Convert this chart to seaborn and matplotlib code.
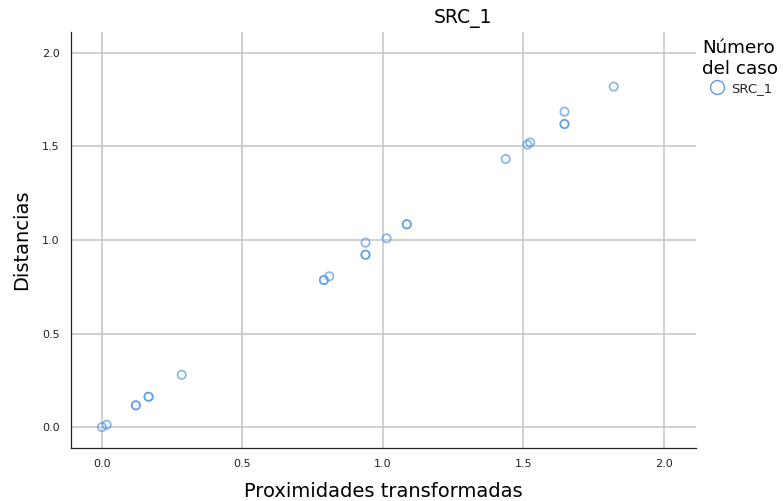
import matplotlib
matplotlib.use("Agg")
import matplotlib.pyplot as plt
import seaborn as sns
import pandas as pd
from matplotlib.lines import Line2D

# Data (duplicates = overlapping points)
prox = [0.0, 0.017, 0.121, 0.121, 0.166, 0.166, 0.284, 0.790, 0.790, 0.809,
        0.938, 0.938, 0.938, 1.013, 1.085, 1.085, 1.437, 1.514, 1.524,
        1.646, 1.646, 1.646, 1.821]
dist = [0.0, 0.012, 0.116, 0.116, 0.162, 0.162, 0.279, 0.786, 0.786, 0.806,
        0.986, 0.921, 0.921, 1.009, 1.084, 1.084, 1.433, 1.510, 1.521,
        1.686, 1.620, 1.620, 1.820]
series = ["SRC_1"] * len(prox)

df = pd.DataFrame({"Proximidades transformadas": prox,
                   "Distancias": dist,
                   "Número del caso": series})

sns.set_style("white")
plt.rcParams['font.family'] = ['DejaVu Sans']

fig = plt.figure(figsize=(7.83, 5.01), dpi=100)
ax = fig.add_axes([71/783, 1 - 448/501, (696-71)/783, (448-32)/501])

blue = "#5b9be6"
sns.scatterplot(data=df, x="Proximidades transformadas", y="Distancias",
                hue="Número del caso", palette=[blue], ax=ax,
                marker="o", s=36, facecolors="none", edgecolor=blue,
                linewidth=1.2, alpha=0.75, legend=False, zorder=3)
for c in ax.collections:
    c.set_facecolor("none")
    c.set_edgecolor(blue)

ax.set_xlim(-0.110, 2.114)
ax.set_ylim(-0.112, 2.112)
ax.set_xticks([0.0, 0.5, 1.0, 1.5, 2.0])
ax.set_yticks([0.0, 0.5, 1.0, 1.5, 2.0])
ax.set_xticklabels(["0.0", "0.5", "1.0", "1.5", "2.0"])
ax.set_yticklabels(["0.0", "0.5", "1.0", "1.5", "2.0"])
ax.tick_params(axis="both", labelsize=8, colors="#222222", length=0, pad=8)
ax.grid(True, color="#c8c8c8", linewidth=1.2, zorder=0)
ax.set_axisbelow(True)
for side in ["top", "right"]:
    ax.spines[side].set_visible(False)
for side in ["left", "bottom"]:
    ax.spines[side].set_color("#222222")
    ax.spines[side].set_linewidth(0.9)

ax.set_xlabel("Proximidades transformadas", fontsize=14, labelpad=9,
              color="black", fontweight="medium")
ax.set_ylabel("Distancias", fontsize=14, labelpad=8, color="black",
              fontweight="medium")
fig.text(463/783, 1 - 18/501, "SRC_1", fontsize=13.5, ha="center", va="center",
         color="black")

handle = Line2D([], [], marker="o", linestyle="none", markersize=10,
                markerfacecolor="none", markeredgecolor=blue, markeredgewidth=1)
leg = fig.legend([handle], ["SRC_1"], title="Número\ndel caso",
                 loc="upper left", bbox_to_anchor=(697/783, 1 - 34/501),
                 frameon=False, fontsize=9.5, handletextpad=0.0,
                 borderaxespad=0, handlelength=2.2, labelspacing=0.3)
leg.get_title().set_fontsize(13.2)
leg.get_title().set_color("black")
leg._legend_box.align = "left"

fig.savefig("out.png", dpi=100)
